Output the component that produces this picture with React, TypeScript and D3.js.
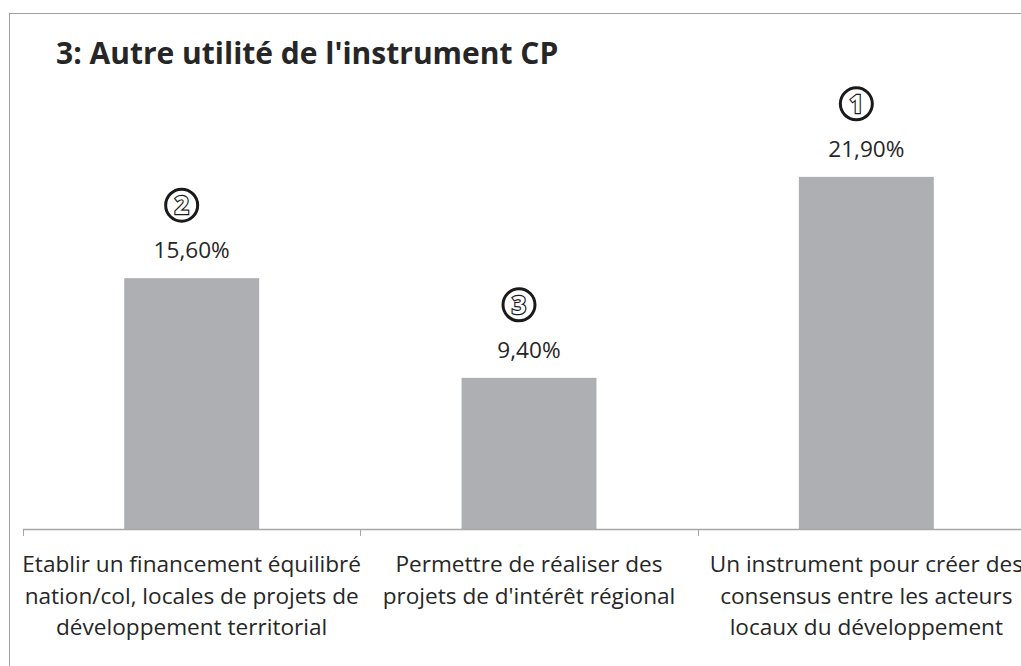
import { useEffect, useRef } from 'react';
import * as d3 from 'd3';

const WIDTH = 1021;
const HEIGHT = 666;
const MARGIN = { top: 127, left: 23, bottom: 137 };
const PLOT_RIGHT = 1035; // the frame is cut off at the right edge of the picture

const TITLE = "3: Autre utilité de l'instrument CP";

// Catégories (libellés sur plusieurs lignes, comme dans Excel)
const categories = ['financement', 'regional', 'consensus'];
const categoryLines = [
  ['Etablir un financement équilibré', 'nation/col, locales de projets de', 'développement territorial'],
  ['Permettre de réaliser des', "projets de d'intérêt régional"],
  ['Un instrument pour créer des', 'consensus entre les acteurs', 'locaux du développement'],
];
const values = [15.6, 9.4, 21.9];
const ranks = ['2', '3', '1'];
const yMax = 25;

const FONT = "'Open Sans', 'DejaVu Sans', sans-serif";
const TEXT_COLOR = '#262626';
const BAR_COLOR = '#AEAFB3';
const AXIS_COLOR = '#A6A6A6';
const LABEL_SIZE = '22.6px';

const frFormat = d3.formatLocale({ decimal: ',', thousands: ' ', grouping: [3], currency: ['', ' €'] }).format('.2f');

export default function App() {
  const svgRef = useRef<SVGSVGElement>(null);

  useEffect(() => {
    if (!svgRef.current) return;
    const svg = d3.select(svgRef.current);
    svg.selectAll('*').remove();

    const baseline = HEIGHT - MARGIN.bottom;

    const xScale = d3
      .scaleBand()
      .domain(categories)
      .range([MARGIN.left, PLOT_RIGHT])
      .paddingInner(0.6)
      .paddingOuter(0.3);

    const yScale = d3.scaleLinear().domain([0, yMax]).range([baseline, MARGIN.top]);

    // Cadre du graphique
    svg
      .append('rect')
      .attr('x', 9.5)
      .attr('y', 13.5)
      .attr('width', 1200)
      .attr('height', 900)
      .attr('fill', '#fff')
      .attr('stroke', '#A0A0A0')
      .attr('stroke-width', 1);

    // Titre
    svg
      .append('text')
      .attr('x', 56)
      .attr('y', 64)
      .style('font-family', FONT)
      .style('font-size', '30px')
      .style('font-weight', '700')
      .style('fill', TEXT_COLOR)
      .text(TITLE);

    const data = categories.map((c, i) => ({ key: c, value: values[i], rank: ranks[i], lines: categoryLines[i] }));

    // Barres
    svg
      .selectAll('rect.bar')
      .data(data)
      .join('rect')
      .attr('class', 'bar')
      .attr('x', d => xScale(d.key)!)
      .attr('y', d => yScale(d.value))
      .attr('width', xScale.bandwidth())
      .attr('height', d => baseline - yScale(d.value))
      .attr('fill', BAR_COLOR);

    // Axe X
    svg
      .append('line')
      .attr('x1', MARGIN.left)
      .attr('x2', PLOT_RIGHT)
      .attr('y1', baseline + 0.5)
      .attr('y2', baseline + 0.5)
      .attr('stroke', AXIS_COLOR)
      .attr('stroke-width', 1.5);

    const tickPositions = d3.range(categories.length + 1).map(i => MARGIN.left + i * xScale.step());
    svg
      .selectAll('line.tick')
      .data(tickPositions)
      .join('line')
      .attr('class', 'tick')
      .attr('x1', d => Math.round(d) + 0.5)
      .attr('x2', d => Math.round(d) + 0.5)
      .attr('y1', baseline)
      .attr('y2', baseline + 7)
      .attr('stroke', AXIS_COLOR)
      .attr('stroke-width', 1);

    // Libellés des catégories
    const labels = svg
      .selectAll('text.cat')
      .data(data)
      .join('text')
      .attr('class', 'cat')
      .attr('text-anchor', 'middle')
      .style('font-family', FONT)
      .style('font-size', LABEL_SIZE)
      .style('fill', TEXT_COLOR);

    labels
      .selectAll('tspan')
      .data(d => d.lines.map(line => ({ line, x: xScale(d.key)! + xScale.bandwidth() / 2 })))
      .join('tspan')
      .attr('x', d => d.x)
      .attr('y', (_, i) => baseline + 43 + i * 31.5)
      .text(d => d.line);

    // Valeurs
    svg
      .selectAll('text.value')
      .data(data)
      .join('text')
      .attr('class', 'value')
      .attr('x', d => xScale(d.key)! + xScale.bandwidth() / 2)
      .attr('y', d => yScale(d.value) - 20)
      .attr('text-anchor', 'middle')
      .style('font-family', FONT)
      .style('font-size', LABEL_SIZE)
      .style('fill', TEXT_COLOR)
      .text(d => frFormat(d.value) + '%');

    // Rang entouré
    const rankGroup = svg
      .selectAll('g.rank')
      .data(data)
      .join('g')
      .attr('class', 'rank')
      .attr('transform', d => `translate(${xScale(d.key)! + xScale.bandwidth() / 2 - 10}, ${yScale(d.value) - 73})`);

    rankGroup
      .append('circle')
      .attr('r', 16)
      .attr('fill', '#fff')
      .attr('stroke', '#1a1a1a')
      .attr('stroke-width', 3);

    rankGroup
      .append('text')
      .attr('text-anchor', 'middle')
      .attr('y', 9)
      .style('font-family', FONT)
      .style('font-size', '25px')
      .style('font-weight', '700')
      .style('fill', '#fff')
      .style('stroke', '#1a1a1a')
      .style('stroke-width', '2.4px')
      .style('paint-order', 'stroke')
      .text(d => d.rank);
  }, []);

  return (
    <svg
      ref={svgRef}
      width={WIDTH}
      height={HEIGHT}
      style={{ position: 'absolute', left: 0, top: 0, background: '#fff' }}
    />
  );
}
